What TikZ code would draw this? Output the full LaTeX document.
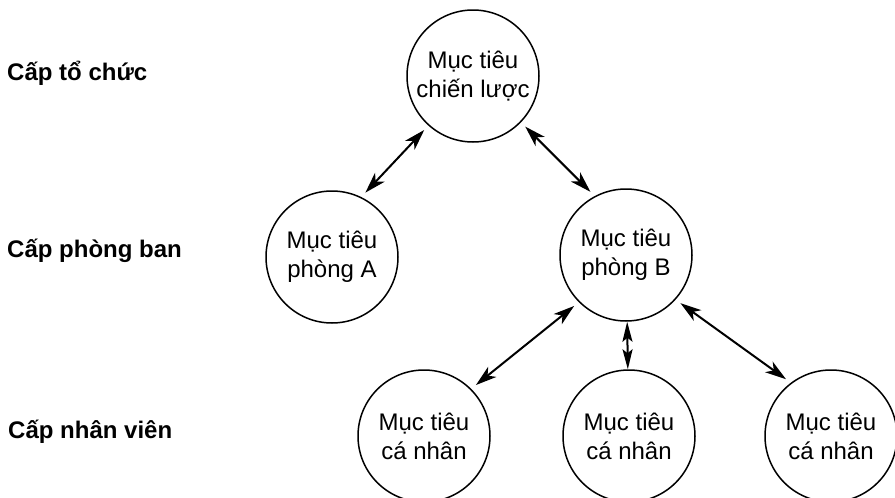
\documentclass[tikz,border=0pt]{standalone}
\usepackage{fontspec}
\setmainfont{Liberation Sans}
\usetikzlibrary{positioning,arrows.meta}
\tikzstyle{goal} = [circle,
                   minimum size=132pt,
                   inner sep=0pt,
                   align=center,
                   draw=black,
                   line width=1.5pt,
                   font=\fontsize{24}{29}\selectfont]
\tikzstyle{level} = [anchor=base west,
                    inner sep=0pt,
                    font=\bfseries\fontsize{24}{29}\selectfont]
\tikzstyle{link} = [line width=2pt,
                   >={Stealth[length=21pt,width=13pt,inset=6pt]},
                   <->,
                   shorten >=6pt,
                   shorten <=6pt]
\tikzstyle{shortlink} = [link,
                        >={Stealth[length=20pt,width=10pt,inset=4pt]},
                        shorten >=0pt,
                        shorten <=0pt]
\tikzstyle{tree} = [on grid,
                   x=1pt, y=-1pt]

\begin{document}
\begin{tikzpicture}[tree]
    \useasboundingbox (0,0) rectangle (895,498);
    \node (org) [goal] at (473,76) {Mục tiêu\\chiến lược};
    \node (deptA) [goal, below left =181pt and 141pt of org] {Mục tiêu\\phòng A};
    \node (deptB) [goal, below right =179pt and 153pt of org] {Mục tiêu\\phòng B};
    \node (emp1) [goal, below left =181pt and 202pt of deptB] {Mục tiêu\\cá nhân};
    \node (emp2) [goal, below right =181pt and 3pt of deptB] {Mục tiêu\\cá nhân};
    \node (emp3) [goal, below right =181pt and 205pt of deptB] {Mục tiêu\\cá nhân};
    \node (lvl1) [level] at (7,80) {Cấp tổ chức};
    \node (lvl2) [level] at (7,257) {Cấp phòng ban};
    \node (lvl3) [level] at (8,438) {Cấp nhân viên};
    \draw[link] (org.228) -- (deptA.64);
    \draw[link] (org.316) -- (deptB.118);
    \draw[link] (deptB.225) -- (emp1.45);
    \draw[shortlink] (deptB.271) -- (emp2.91);
    \draw[link] (deptB.318) -- (emp3.127);
\end{tikzpicture}
\end{document}
